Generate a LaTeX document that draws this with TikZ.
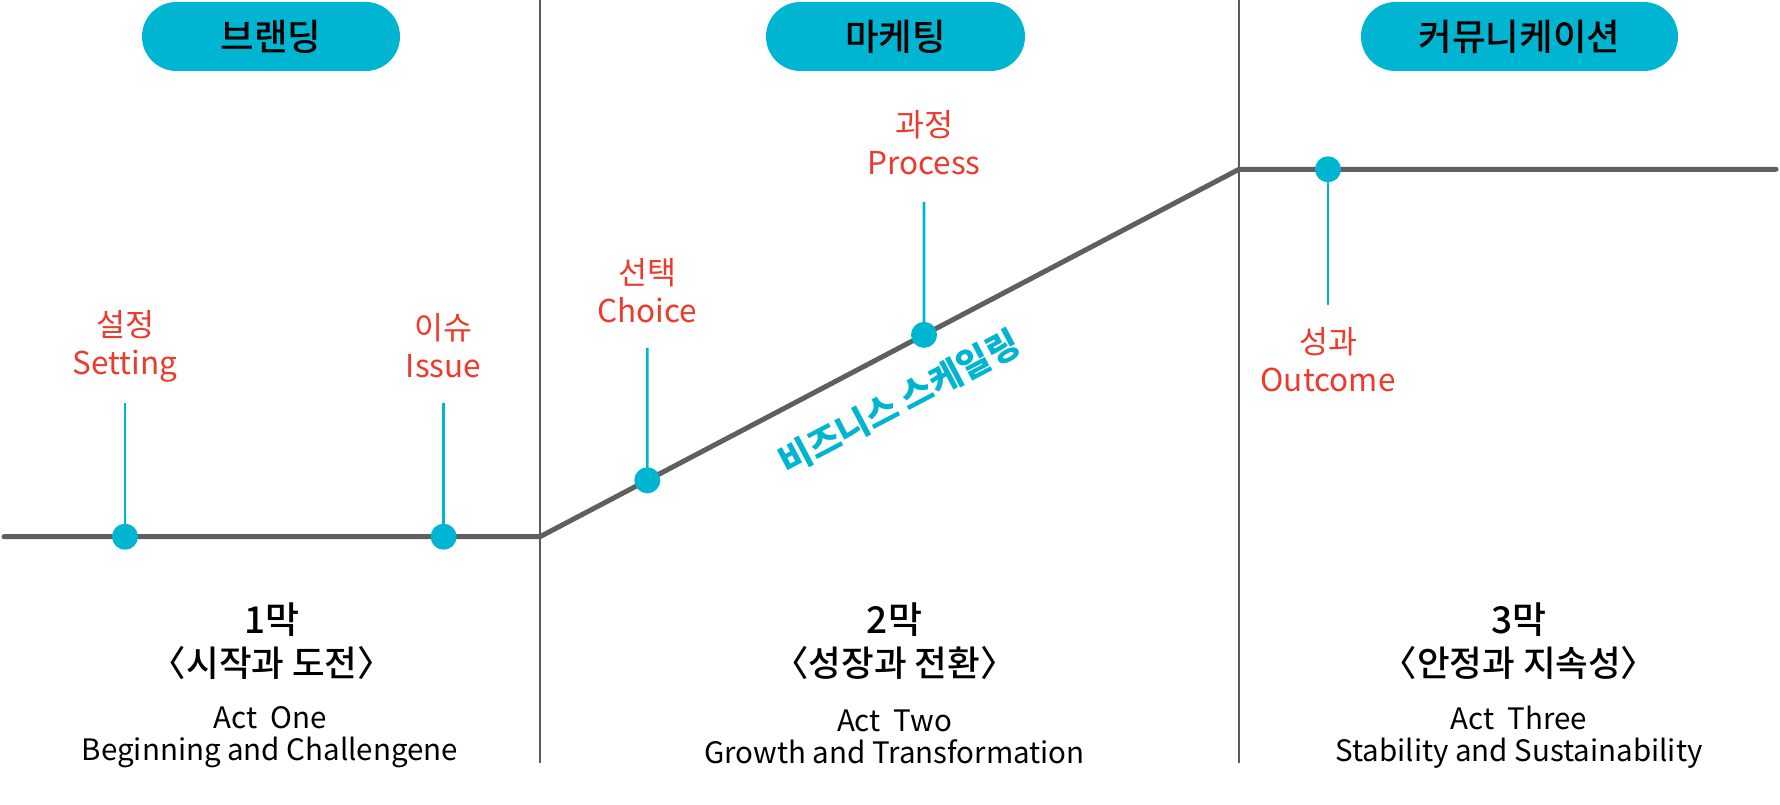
\documentclass[tikz,border=0pt]{standalone}
\usepackage{fontspec}
\setmainfont{Noto Sans CJK KR}
\newfontfamily\krmed{Noto Sans CJK KR Medium}
\newfontfamily\krmedhalt[RawFeature=+halt]{Noto Sans CJK KR Medium}
\usetikzlibrary{calc}
\definecolor{cyan0}{RGB}{0,181,210}
\definecolor{red0}{RGB}{238,58,44}
\definecolor{linegray}{RGB}{95,95,95}
\definecolor{sepgray}{RGB}{90,90,90}
\tikzset{
  mainline/.style={line width=5pt, draw=linegray, line cap=round, line join=round},
  sepline/.style={line width=1.3pt, draw=sepgray},
  stemline/.style={line width=2.6pt, draw=cyan0},
  dotnode/.style={circle, fill=cyan0, minimum size=26pt, inner sep=0pt},
  pill/.style={rounded corners=34.5pt, fill=cyan0, minimum height=69pt, inner sep=0pt,
    font=\krmed\fontsize{36.5}{40}\selectfont, text=black},
  lbl/.style={text=red0, font=\fontsize{31.5}{38}\selectfont, align=center, inner sep=0pt},
  actnum/.style={font=\krmed\fontsize{37}{40}\selectfont, text=black, inner sep=0pt},
  acttitle/.style={font=\krmedhalt\fontsize{35.5}{40}\selectfont, text=black, inner sep=0pt},
  actsub/.style={font=\fontsize{29.5}{32}\selectfont, text=black, align=center, inner sep=0pt},
  scaling/.style={font=\bfseries\fontsize{35}{38}\selectfont, text=cyan0, inner sep=0pt}
}
\begin{document}
\begin{tikzpicture}[x=1pt,y=-1pt]
\useasboundingbox (0,0) rectangle (1780,805);
% separators
\coordinate (v1t) at (540,0); \coordinate (v1b) at (540,763);
\coordinate (v2t) at (1239,0); \coordinate (v2b) at (1239,763);
\draw[sepline] (v1t) -- (v1b);
\draw[sepline] (v2t) -- (v2b);
% pills
\node[pill, minimum width=258pt] (pb) at (271,36.5) {브랜딩};
\node[pill, minimum width=259pt] (pm) at (895.5,36.5) {마케팅};
\node[pill, minimum width=317pt] (pc) at (1519.5,36.5) {커뮤니케이션};
% main line
\coordinate (L0) at (4,536.7);
\coordinate (B1) at (540,536.7);
\coordinate (B2) at (1239,169.3);
\coordinate (L1) at (1776,169.3);
\coordinate (p1) at (125,536.7);
\coordinate (p2) at (443.6,536.7);
\coordinate (p3) at ($(B1)!0.1535!(B2)$);
\coordinate (p4) at ($(B1)!0.5494!(B2)$);
\coordinate (p5) at (1328,169.3);
\coordinate (s1) at (125,403);
\coordinate (s2) at (443.6,403);
\coordinate (s3) at (647.3,348);
\coordinate (s4) at (924,202);
\coordinate (s5) at (1328,305);
\draw[stemline] (p1) -- (s1);
\draw[stemline] (p2) -- (s2);
\draw[stemline] (p3) -- (s3);
\draw[stemline] (p4) -- (s4);
\draw[stemline] (p5) -- (s5);
\draw[mainline] (L0) -- (B1) -- (B2) -- (L1);
\node[dotnode] (d1) at (p1) {};
\node[dotnode] (d2) at (p2) {};
\node[dotnode] (d3) at (p3) {};
\node[dotnode] (d4) at (p4) {};
\node[dotnode] (d5) at (p5) {};
% labels
\node[lbl] (l1) at (125,346) {설정\\Setting};
\node[lbl] (l2) at (443.6,346) {이슈\\Issue};
\node[lbl] (l3) at (647.3,291) {선택\\Choice};
\node[lbl] (l4) at (924,143) {과정\\Process};
\node[lbl] (l5) at (1328,360) {성과\\Outcome};
\node[scaling, rotate=27.7] (bs) at (899,402) {비즈니스 스케일링};
% acts
\node[actnum] (a1) at (272,620) {1막};
\node[acttitle] (t1) at (272,663) {〈시작과 도전〉};
\node[actsub] (c1) at (270,737) {Act~~One\\Beginning and Challengene};
\node[actnum] (a2) at (894.5,620) {2막};
\node[acttitle] (t2) at (894.5,663) {〈성장과 전환〉};
\node[actsub] (c2) at (894.5,737) {Act~~Two\\Growth and Transformation};
\node[actnum] (a3) at (1519,620) {3막};
\node[acttitle] (t3) at (1519,663) {〈안정과 지속성〉};
\node[actsub] (c3) at (1519,737) {Act~~Three\\Stability and Sustainability};
\end{tikzpicture}
\end{document}
